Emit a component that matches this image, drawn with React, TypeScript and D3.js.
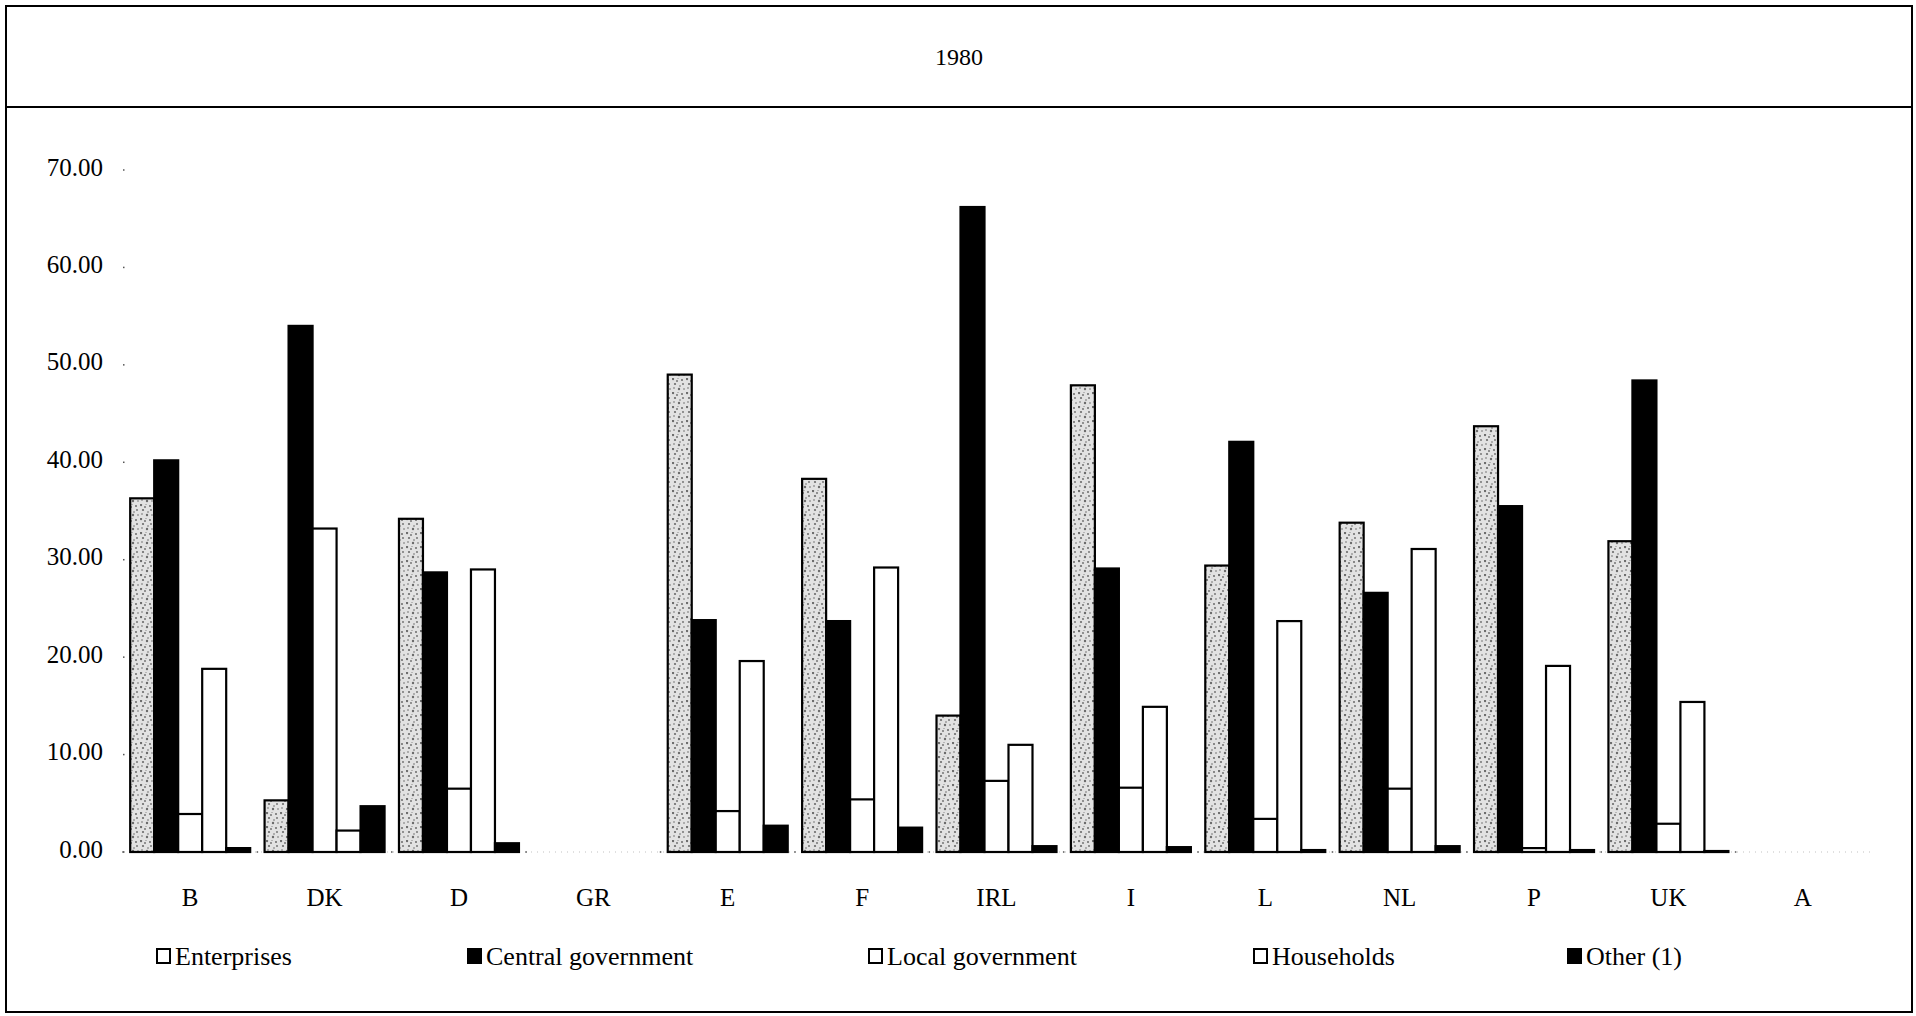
import React from 'react';
import * as d3 from 'd3';

// Countries along the x axis (GR and A have no data for 1980)
const categories = ['B', 'DK', 'D', 'GR', 'E', 'F', 'IRL', 'I', 'L', 'NL', 'P', 'UK', 'A'];

const seriesNames = ['Enterprises', 'Central government', 'Local government', 'Households', 'Other (1)'];

const enterprises = [36.3, 5.3, 34.2, null, 49.0, 38.3, 14.0, 47.9, 29.4, 33.8, 43.7, 31.9, null];
const centralGov = [40.2, 54.0, 28.7, null, 23.8, 23.7, 66.2, 29.1, 42.1, 26.6, 35.5, 48.4, null];
const localGov = [3.9, 33.2, 6.5, null, 4.2, 5.4, 7.3, 6.6, 3.4, 6.5, 0.4, 2.9, null];
const households = [18.8, 2.2, 29.0, null, 19.6, 29.2, 11.0, 14.9, 23.7, 31.1, 19.1, 15.4, null];
const other = [0.4, 4.7, 0.9, null, 2.7, 2.5, 0.6, 0.5, 0.2, 0.6, 0.2, 0.1, null];

const seriesValues = [enterprises, centralGov, localGov, households, other];

const yTicks = [0, 10, 20, 30, 40, 50, 60, 70];

const title = '1980';

const W = 1916;
const H = 1016;
const FONT = '"Liberation Serif", "Times New Roman", serif';

const fills = ['url(#stipple)', '#000', '#fff', '#fff', '#000'];
const legendFills = ['#fff', '#000', '#fff', '#fff', '#000'];
const legendX = [157, 468, 869, 1254, 1568];

// fixed speckle positions for the stipple texture
const speckles: [number, number, number][] = [
  [1, 1, 1.2], [5, 3, 0.9], [3, 6, 1.1], [8, 8, 0.8], [10, 2, 1.0],
  [7, 11, 1.2], [2, 10, 0.8], [11, 6, 0.9], [6, 0, 0.7], [12, 11, 0.8],
];

export default function App() {
  const x = d3.scaleBand<string>().domain(categories).range([123, 1870]).padding(0);
  const inner = d3
    .scaleBand<string>()
    .domain(seriesNames)
    .range([0, x.bandwidth()])
    .paddingInner(0)
    .paddingOuter(0.3);
  const y = d3.scaleLinear().domain([0, 70]).range([852, 170]);

  const bars: { key: string; x: number; y: number; w: number; h: number; fill: string }[] = [];
  categories.forEach((c, ci) => {
    seriesNames.forEach((s, si) => {
      const v = seriesValues[si][ci];
      if (v == null) return;
      bars.push({
        key: `${c}-${si}`,
        x: (x(c) ?? 0) + (inner(s) ?? 0),
        y: y(v),
        w: inner.bandwidth(),
        h: y(0) - y(v),
        fill: fills[si],
      });
    });
  });

  return (
    <svg
      width={W}
      height={H}
      style={{ position: 'absolute', left: 0, top: 0, display: 'block', background: '#fff' }}
      fontFamily={FONT}
    >
      <defs>
        <pattern id="stipple" width="14" height="14" patternUnits="userSpaceOnUse">
          <rect width="14" height="14" fill="#e2e2e2" />
          {speckles.map(([cx, cy, r], i) => (
            <circle key={i} cx={cx} cy={cy} r={r} fill="#6a6a6a" />
          ))}
        </pattern>
      </defs>

      {/* outer frame and title box */}
      <rect x={6} y={6} width={1906} height={1006} fill="none" stroke="#000" strokeWidth={2} />
      <line x1={6} x2={1912} y1={107} y2={107} stroke="#000" strokeWidth={2} />
      <text x={959} y={57} textAnchor="middle" dominantBaseline="central" fontSize={24}>
        {title}
      </text>

      {/* y axis labels and tick dots */}
      {yTicks.map((t) => (
        <g key={t}>
          <text x={103} y={y(t) - 3} textAnchor="end" dominantBaseline="central" fontSize={25}>
            {t.toFixed(2)}
          </text>
          <rect x={123} y={y(t) - 0.75} width={1.5} height={1.5} fill="#555" />
        </g>
      ))}

      {/* baseline: faint dotted hairline with dots at band edges */}
      <line x1={123} x2={1870} y1={y(0)} y2={y(0)} stroke="#999" strokeWidth={0.6} strokeDasharray="1 5" />
      {categories.map((c) => (
        <rect key={c} x={(x(c) ?? 0) - 0.75} y={y(0) - 0.75} width={1.5} height={1.5} fill="#555" />
      ))}

      {/* bars */}
      {bars.map((b) => (
        <rect
          key={b.key}
          x={b.x}
          y={b.y}
          width={b.w}
          height={Math.max(b.h, 1)}
          fill={b.fill}
          stroke="#000"
          strokeWidth={2.2}
        />
      ))}

      {/* x axis labels */}
      {categories.map((c) => (
        <text
          key={c}
          x={(x(c) ?? 0) + x.bandwidth() / 2}
          y={897}
          textAnchor="middle"
          dominantBaseline="central"
          fontSize={25}
        >
          {c}
        </text>
      ))}

      {/* legend */}
      {seriesNames.map((s, i) => (
        <g key={s} transform={`translate(${legendX[i]}, 956)`}>
          <rect x={0} y={-7} width={13} height={14} fill={legendFills[i]} stroke="#000" strokeWidth={2} />
          <text x={18} y={0} dominantBaseline="central" fontSize={26}>
            {s}
          </text>
        </g>
      ))}
    </svg>
  );
}
